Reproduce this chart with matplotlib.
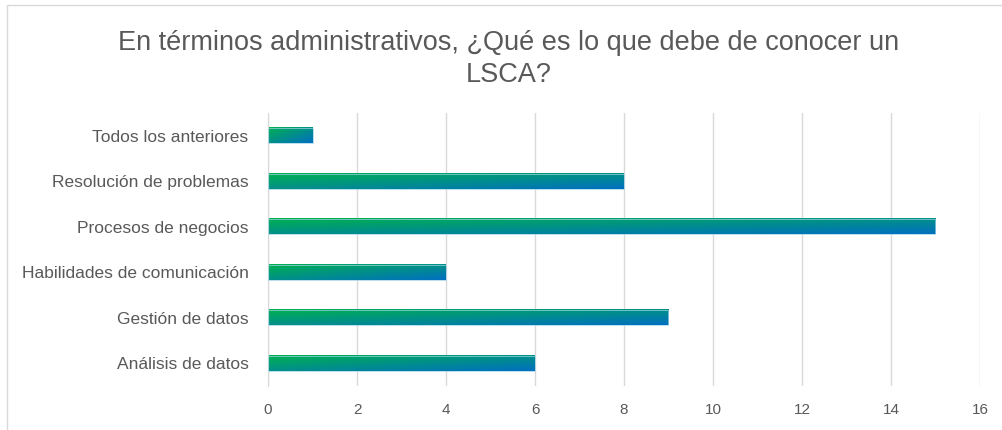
import matplotlib.pyplot as plt
import numpy as np
from matplotlib.colors import LinearSegmentedColormap
from matplotlib.patches import Rectangle

categories = ['Análisis de datos', 'Gestión de datos', 'Habilidades de comunicación',
              'Procesos de negocios', 'Resolución de problemas', 'Todos los anteriores']
values = [6, 9, 4, 15, 8, 1]
xticks = [0, 2, 4, 6, 8, 10, 12, 14, 16]
title = 'En términos administrativos, ¿Qué es lo que debe de conocer un\nLSCA?'

plt.rcParams['font.family'] = ['Liberation Sans', 'DejaVu Sans']
txt = '#595959'
grid = '#D9D9D9'

fig = plt.figure(figsize=(10.02, 4.30), dpi=100)
ax = fig.add_axes([0.2675, 0.1023, 0.7105, 0.6347])

# borde del grafico
fig.patches.append(Rectangle((0.007, -0.05), 1.1, 1.038, transform=fig.transFigure,
                             fill=False, edgecolor=grid, linewidth=1))

cmap = LinearSegmentedColormap.from_list('gb', ['#00B050', '#0070C0'])
h = 0.33
y = np.arange(len(categories))
bars = ax.barh(y, values, height=h, color='none', edgecolor='#9CD3E6', linewidth=0.5, zorder=3)

# degradado diagonal en cada barra
xx, yy = np.meshgrid(np.linspace(0, 1, 200), np.linspace(0, 1, 20))
for b in bars:
    x0, y0 = b.get_x(), b.get_y()
    w, hh = b.get_width(), b.get_height()
    t = 0.5 * xx + 0.5 * yy
    ax.imshow(t, cmap=cmap, vmin=0, vmax=1, aspect='auto', origin='upper',
              extent=[x0, x0 + w, y0, y0 + hh], zorder=2, interpolation='bilinear')

ax.set_xlim(0, 16)
ax.set_ylim(-0.5, len(categories) - 0.5)
ax.set_xticks(xticks)
ax.set_yticks(y)
ax.set_yticklabels(categories)
ax.xaxis.grid(True, color=grid, linewidth=1, zorder=0)
ax.set_axisbelow(True)
for s in ['top', 'right', 'bottom']:
    ax.spines[s].set_visible(False)
ax.spines['left'].set_color(grid)
ax.tick_params(axis='both', length=0, colors=txt)
ax.tick_params(axis='x', pad=12, labelsize=11)
ax.tick_params(axis='y', pad=14, labelsize=12.5)

fig.text(0.508, 0.863, title, ha='center', va='center', fontsize=19.5, color=txt,
         linespacing=1.32)

fig.savefig('out.png', dpi=100)
